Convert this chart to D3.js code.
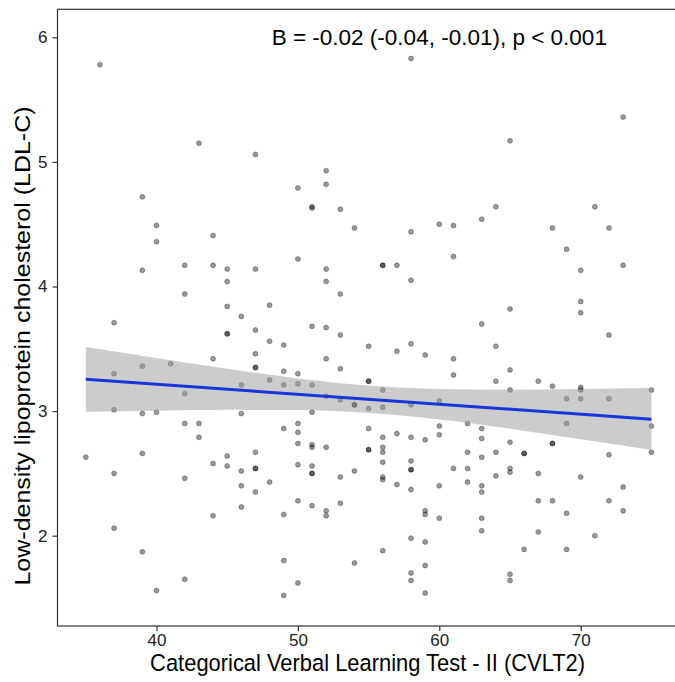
<!DOCTYPE html>
<html><head><meta charset="utf-8">
<script src="https://cdn.jsdelivr.net/npm/d3@7"></script>
<style>body{margin:0;background:#fff}</style>
</head><body><svg id="c" width="675" height="682"></svg>
<script>
// [CVLT2 score, LDL-C]
const points = [
[35,2.63],[36,5.78],
[37,3.71],[37,3.30],[37,3.01],[37,2.50],[37,2.06],
[39,4.72],[39,4.13],[39,3.36],[39,2.98],[39,2.66],[39,1.87],
[40,4.49],[40,4.36],[40,2.99],[40,1.56],
[41,3.38],
[42,4.17],[42,3.94],[42,3.14],[42,2.90],[42,2.46],[42,1.65],
[43,5.15],[43,2.90],[43,2.79],
[44,4.41],[44,4.17],[44,3.42],[44,2.58],[44,2.16],
[45,4.14],[45,4.04],[45,3.84],[45,3.62],[45,3.62],[45,2.64],[45,2.56],
[46,3.76],[46,3.21],[46,2.98],[46,2.52],[46,2.40],[46,2.23],
[47,5.06],[47,4.14],[47,3.65],[47,3.46],[47,3.35],[47,3.35],[47,2.67],[47,2.54],[47,2.54],[47,2.35],
[48,3.85],[48,3.56],[48,3.25],[48,2.43],
[49,3.53],[49,3.32],[49,3.21],[49,2.86],[49,2.17],[49,1.80],[49,1.52],
[50,4.79],[50,4.22],[50,3.30],[50,3.22],[50,2.90],[50,2.83],[50,2.74],[50,2.57],[50,2.28],[50,1.62],
[51,4.64],[51,4.63],[51,3.68],[51,3.21],[51,2.99],[51,2.73],[51,2.71],[51,2.56],[51,2.50],[51,2.50],[51,2.24],
[52,4.93],[52,4.82],[52,4.14],[52,4.04],[52,3.67],[52,3.42],[52,3.12],[52,2.71],[52,2.20],[52,2.16],
[53,4.62],[53,3.94],[53,3.61],[53,3.34],[53,3.09],[53,2.47],[53,2.26],
[54,4.47],[54,3.05],[54,3.05],[54,2.52],[54,1.78],
[55,3.52],[55,3.24],[55,3.24],[55,3.02],[55,2.86],[55,2.69],[55,2.69],
[56,4.17],[56,4.17],[56,3.17],[56,3.03],[56,2.79],[56,2.71],[56,2.67],[56,2.59],[56,2.47],[56,2.45],[56,1.88],
[57,4.17],[57,3.48],[57,2.82],[57,2.41],
[58,5.83],[58,4.44],[58,4.05],[58,3.54],[58,3.05],[58,2.79],[58,2.60],[58,2.53],[58,2.53],[58,2.37],[58,1.98],[58,1.70],[58,1.64],
[59,3.45],[59,2.77],[59,2.20],[59,2.17],[59,1.95],[59,1.76],[59,1.54],
[60,4.50],[60,3.08],[60,2.88],[60,2.81],[60,2.40],[60,2.14],
[61,4.49],[61,4.24],[61,3.42],[61,3.29],[61,2.54],
[62,2.90],[62,2.67],[62,2.54],[62,2.43],
[63,4.54],[63,3.70],[63,2.86],[63,2.78],[63,2.63],[63,2.40],[63,2.35],[63,2.14],[63,2.04],
[64,4.64],[64,3.52],[64,3.24],[64,2.67],[64,2.48],
[65,5.17],[65,3.82],[65,3.33],[65,3.17],[65,2.75],[65,2.54],[65,2.51],[65,1.69],[65,1.64],
[66,2.66],[66,2.66],[66,1.89],
[67,3.24],[67,2.50],[67,2.28],[67,2.03],
[68,4.47],[68,3.20],[68,2.74],[68,2.74],[68,2.28],
[69,4.30],[69,3.10],[69,2.90],[69,2.18],[69,1.89],
[70,4.13],[70,3.88],[70,3.79],[70,3.19],[70,3.17],[70,3.10],[70,2.47],
[71,4.64],[71,2.00],
[72,4.47],[72,3.61],[72,3.10],[72,2.65],[72,2.28],
[73,5.36],[73,4.17],[73,2.39],[73,2.20],
[75,3.17],[75,2.88],[75,2.67]
];
const fitX = [35, 75];
const fitY = [3.255, 2.935];
const bandX = [35, 40, 45, 50, 55, 60, 65, 70, 75];
const bandUpper = [3.515, 3.427, 3.340, 3.262, 3.205, 3.177, 3.171, 3.177, 3.185];
const bandLower = [2.995, 3.003, 3.010, 3.008, 2.985, 2.933, 2.859, 2.773, 2.688];
const xTicks = [40, 50, 60, 70];
const yTicks = [2, 3, 4, 5, 6];
const annotX = 60, annotY = 6;
const annotText = "B = -0.02 (-0.04, -0.01), p < 0.001";
const xTitle = "Categorical Verbal Learning Test - II (CVLT2)";
const yTitle = "Low-density lipoprotein cholesterol (LDL-C)";

const svg = d3.select("#c");
const FONT = "'Liberation Sans', Arial, sans-serif";
const L = 57.5, R = 679.7, T = 9.3, B = 626;
const x = d3.scaleLinear().domain([33, 77]).range([L, R]);
const y = d3.scaleLinear().domain([1.275, 6.225]).range([B, T]);

svg.append("rect").attr("width", 675).attr("height", 682).attr("fill", "#fff");

// points
svg.append("g").selectAll("circle").data(points).join("circle")
  .attr("cx", d => x(d[0])).attr("cy", d => y(d[1])).attr("r", 2.5)
  .attr("fill", "#000").attr("fill-opacity", 0.4)
  .attr("stroke", "#000").attr("stroke-opacity", 0.3).attr("stroke-width", 0.9);

// confidence band
const bandData = bandX.map((v, i) => ({x: v, lo: bandLower[i], hi: bandUpper[i]}));
svg.append("path").datum(bandData)
  .attr("d", d3.area().x(d => x(d.x)).y0(d => y(d.lo)).y1(d => y(d.hi)).curve(d3.curveMonotoneX))
  .attr("fill", "#999").attr("fill-opacity", 0.5);

// fit line
svg.append("path").datum(fitX.map((v, i) => [v, fitY[i]]))
  .attr("d", d3.line().x(d => x(d[0])).y(d => y(d[1])))
  .attr("fill", "none").attr("stroke", "#1636d8").attr("stroke-width", 3);

// frame
svg.append("rect").attr("x", L).attr("y", T).attr("width", R - L).attr("height", B - T)
  .attr("fill", "none").attr("stroke", "#333").attr("stroke-width", 1.2);

// axes
const ax = svg.append("g").attr("transform", `translate(0,${B})`)
  .call(d3.axisBottom(x).tickValues(xTicks).tickSize(5).tickPadding(3).tickFormat(d3.format("d")));
const ay = svg.append("g").attr("transform", `translate(${L},0)`)
  .call(d3.axisLeft(y).tickValues(yTicks).tickSize(5).tickPadding(5).tickFormat(d3.format("d")));
[ax, ay].forEach(g => {
  g.select(".domain").remove();
  g.selectAll(".tick line").attr("stroke", "#333").attr("stroke-width", 1.2);
  g.selectAll(".tick text").attr("fill", "#222").style("font-family", FONT).style("font-size", "17px");
});

// annotation
svg.append("text").attr("x", x(annotX)).attr("y", y(annotY)).attr("dy", "0.35em")
  .attr("text-anchor", "middle").style("font-family", FONT).style("font-size", "22.5px")
  .attr("fill", "#000").text(annotText);

// axis titles
svg.append("text").attr("transform", `translate(${(L + 679.7) / 2 - 1},671) scale(0.94,1)`)
  .attr("text-anchor", "middle").style("font-family", FONT).style("font-size", "23.3px")
  .attr("fill", "#000").text(xTitle);
svg.append("text").attr("transform", `translate(30,346) rotate(-90) scale(1,0.88)`)
  .attr("text-anchor", "middle").style("font-family", FONT).style("font-size", "25px")
  .attr("fill", "#000").text(yTitle);
</script></body></html>
